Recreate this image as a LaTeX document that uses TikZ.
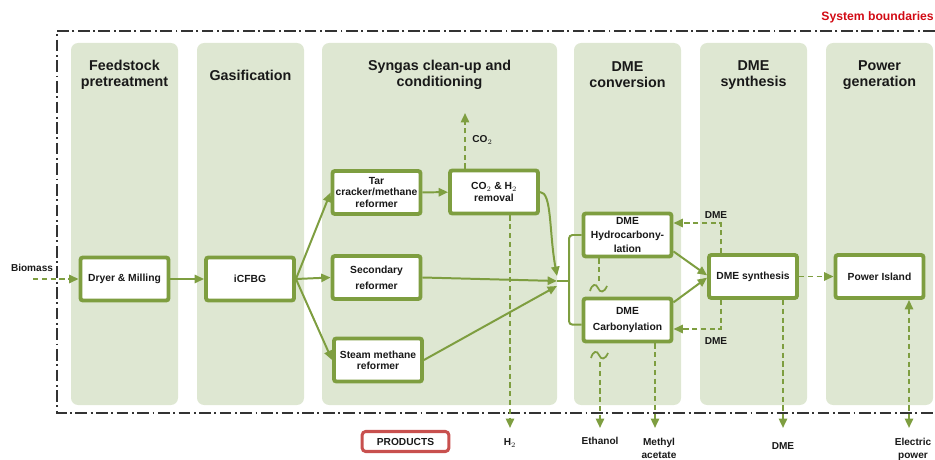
\documentclass[tikz,border=0pt]{standalone}
\usepackage{fontspec}
\setmainfont{Liberation Sans}
\usetikzlibrary{arrows.meta,positioning,calc}
\definecolor{lgreen}{RGB}{126,158,64}
\definecolor{bggreen}{RGB}{222,231,210}
\definecolor{prodred}{RGB}{200,80,78}
\definecolor{sysred}{RGB}{210,10,20}

\begin{document}
\begin{tikzpicture}[
    x=0.03cm, y=-0.03cm,
    stage/.style={fill=bggreen, rounded corners=6pt},
    head/.style={font=\bfseries\fontsize{12.2}{13.8}\selectfont, align=center, text=black!90},
    unit/.style={draw=lgreen, line width=3.3pt, fill=white, rounded corners=2pt, minimum width=2.64cm, minimum height=1.29cm, inner sep=1pt, align=center, text=black!90, font=\bfseries\fontsize{8.8}{9.5}\selectfont},
    lbl/.style={font=\bfseries\fontsize{8.6}{11}\selectfont, align=center, text=black!90, inner sep=1pt},
    flow/.style={draw=lgreen, line width=1.7pt, -{Triangle[length=8pt,width=7pt]}},
    pipe/.style={draw=lgreen, line width=1.7pt},
    side/.style={flow, dash pattern=on 4.5pt off 3pt},
    both/.style={side, {Triangle[length=8pt,width=7pt]}-{Triangle[length=8pt,width=7pt]}},
]
    \useasboundingbox (0,0) rectangle (935,460);

    \foreach \xa/\xb in {71/178, 197/304, 322/557, 574/681, 700/807, 826/933}
        \fill[stage] (\xa,43) rectangle (\xb,405);

    \draw[black!80, line width=1.2pt, dash pattern=on 10pt off 3pt on 1.6pt off 3pt] (935,31) -- (57,31) -- (57,413) -- (935,413);
    \node[font=\bfseries\fontsize{10.4}{12}\selectfont, text=sysred, anchor=east, inner sep=0pt] (sys) at (934,17) {System boundaries};

    \node[head] (h1) at (124.5,75) {Feedstock\\pretreatment};
    \node[head] (h2) at (250.5,75) {Gasification};
    \node[head] (h3) at (439.5,75) {Syngas clean-up and\\conditioning};
    \node[head] (h4) at (627.5,75) {DME\\conversion};
    \node[head] (h5) at (753.5,75) {DME\\synthesis};
    \node[head] (h6) at (879.5,75) {Power\\generation};

    \node[unit] (dry) at (124.5,279) {Dryer \& Milling};
    \node[unit] (gas) at (250,279) {iCFBG};
    \node[unit] (tar) at (376.5,192.5) {Tar\\cracker/methane\\reformer};
    \node[unit] (sec) at (376.5,277.5) {Secondary\\[4pt]reformer};
    \node[unit] (smr) at (378,360) {Steam methane\\reformer};
    \node[unit] (rem) at (494,192) {CO$_2$ \& H$_2$\\removal};
    \node[unit] (hyd) at (627.5,235) {DME\\[2.5pt]Hydrocarbony-\\[2.5pt]lation};
    \node[unit] (carb) at (627.5,320) {DME\\[4pt]Carbonylation};
    \node[unit] (syn) at (753,276.5) {DME synthesis};
    \node[unit] (pwr) at (879.5,276.5) {Power Island};
    \node[draw=prodred, line width=2.6pt, rounded corners=3pt, minimum width=2.6cm, minimum height=0.6cm, inner sep=1pt, text=black!90, font=\bfseries\fontsize{8.7}{9.5}\selectfont] (prod) at (405.5,441.5) {PRODUCTS};

    \coordinate (bio) at (33,279);
    \coordinate (co2) at (465,113);
    \coordinate (h2) at (510,428);
    \coordinate (ja) at (557,276);
    \coordinate (jn) at (557,281);
    \coordinate (jc) at (557,286);
    \coordinate (br) at (569,281);
    \coordinate (rt) at (721,223);
    \coordinate (rb) at (721,329);
    \coordinate (eth) at (600,428);
    \coordinate (mac) at (655,428);
    \coordinate (dme) at (783,428);
    \coordinate (ep) at (909,428);

    \node[lbl] (lbio) at (32,268) {Biomass};
    \node[lbl, anchor=west] (lco2) at (471,140) {CO$_2$};
    \node[lbl] (lh2) at (510,443) {H$_2$};
    \node[lbl] (leth) at (600,441) {Ethanol};
    \node[lbl] (lmac) at (659,448) {Methyl\\acetate};
    \node[lbl] (ldme) at (783,446) {DME};
    \node[lbl] (lep) at (913,449) {Electric\\power};
    \node[lbl] (lrt) at (716,215) {DME};
    \node[lbl] (lrb) at (716,341) {DME};

    \draw[side] (bio) -- (dry);
    \draw[flow] (dry) -- (gas);
    \draw[flow] (gas.east) -- (tar.west);
    \draw[flow] (gas.east) -- (sec.west);
    \draw[flow] (gas.east) -- (smr.west);
    \draw[flow] (tar) -- (rem);
    \draw[side] (rem.north -| co2) -- (co2);
    \draw[side] (rem.south -| h2) -- (h2);
    \draw[flow] (rem.east) .. controls (552,192) and (549,232) .. (ja);
    \draw[flow] (sec.east) -- (jn);
    \draw[flow] (smr.east) -- (jc);
    \draw[pipe] (jn) -- (br);
    \draw[pipe, rounded corners=3pt] (hyd.west) -| (br) |- ([yshift=-4pt]carb.west);
    \draw[flow] ([yshift=-14pt]hyd.east) -- ([yshift=1pt]syn.west);
    \draw[flow] ([yshift=15pt]carb.east) -- ([yshift=-1pt]syn.west);
    \draw[side] (syn.north -| rt) -- (rt) -- (hyd.east |- rt);
    \draw[side] (syn.south -| rb) -- (rb) -- (carb.east |- rb);
    \draw[side] (syn) -- (pwr);
    \draw[side] (syn.south -| dme) -- (dme);
    \draw[both] (pwr.south -| ep) -- (ep);
    \draw[side] (carb.south -| mac) -- (mac);
    \draw[pipe, dash pattern=on 4.5pt off 3pt] (hyd.south -| 599,0) -- (599,281);
    \draw[pipe, line width=1.5pt] (590,291) .. controls (592,284) and (596,283) .. (598,288) .. controls (600,293) and (604,293) .. (607,286);
    \draw[pipe, line width=1.5pt] (591,358) .. controls (593,351) and (597,350) .. (599,355) .. controls (601,360) and (605,360) .. (608,353);
    \draw[side] (600,362) -- (eth);
\end{tikzpicture}
\end{document}
